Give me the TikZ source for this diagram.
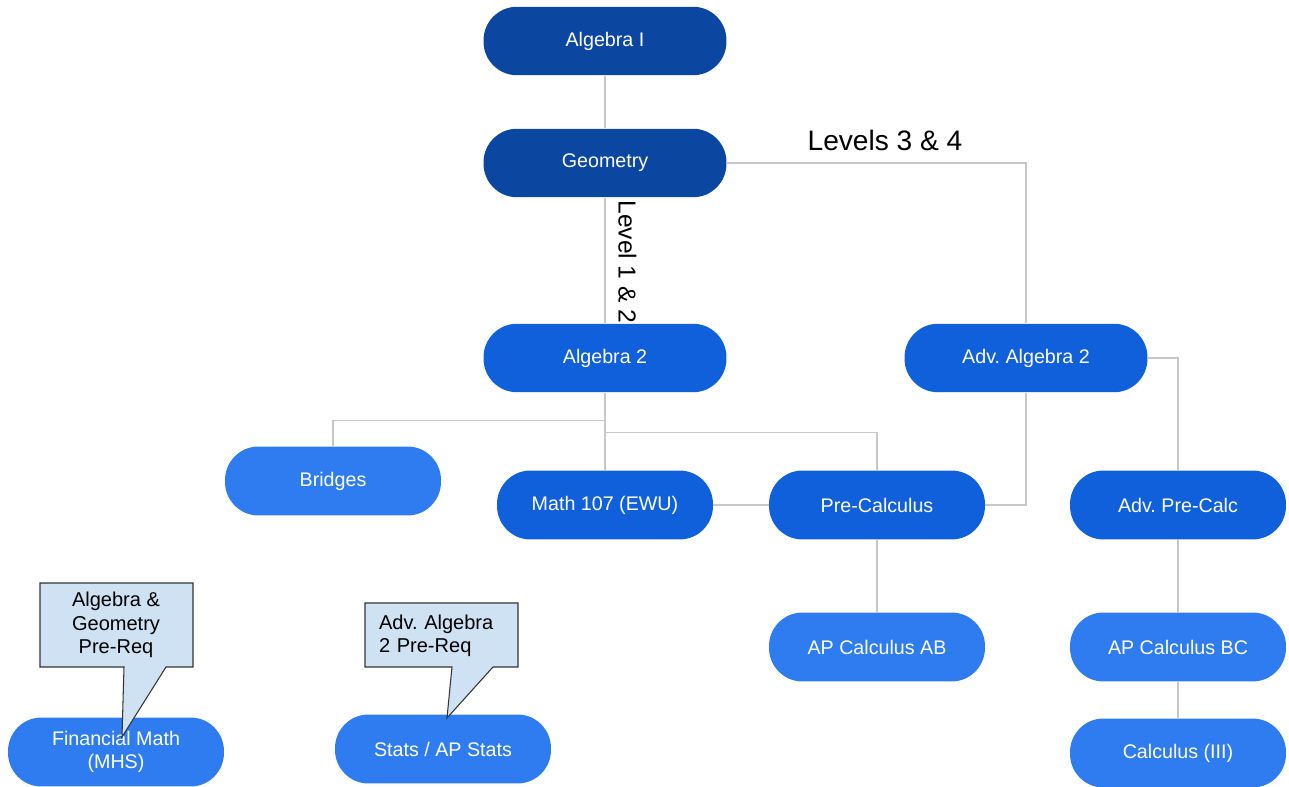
\documentclass[tikz,border=0pt]{standalone}
\usepackage{fontspec}
\setmainfont{Liberation Sans}
\usepackage{tikz}
\usetikzlibrary{calc,positioning}
\frenchspacing
\definecolor{navyblue}{HTML}{0B47A1}
\definecolor{midblue}{HTML}{1160DB}
\definecolor{skyblue}{HTML}{2F7CF0}
\definecolor{linegray}{HTML}{C8C8C8}
\definecolor{notefill}{HTML}{CFE2F3}
\tikzset{
  course/.style={rectangle, rounded corners=0.67cm, text=white, inner sep=2pt,
    font=\fontsize{11.2}{13}\selectfont, align=center},
  wide/.style={course, minimum width=4.86cm, minimum height=1.37cm},
  narrow/.style={course, minimum width=4.32cm, minimum height=1.38cm},
  link/.style={draw=linegray, line width=0.75pt},
  notebox/.style={fill=notefill, draw=black!80, line width=0.6pt, line join=miter},
  notetext/.style={font=\fontsize{11.4}{13.4}\selectfont, inner sep=0pt},
  levelnote/.style={font=\fontsize{16}{18}\selectfont, inner sep=0pt}
}

\begin{document}
\begin{tikzpicture}[x=0.02cm, y=-0.02cm]
  \useasboundingbox (0,0) rectangle (1289,787);
  % level labels
  \node[levelnote] (lvl34) at (885,140) {Levels 3 \& 4};
  \node[levelnote, font=\fontsize{14}{16}\selectfont, rotate=-90, anchor=south west]
    (lvl12) at (618,200) {Level 1 \& 2};
  % courses
  \node[wide, fill=navyblue] (alg1) at (605,41) {Algebra I};
  \node[wide, fill=navyblue] (geom) at (605,163) {Geometry};
  \node[wide, fill=midblue] (alg2) at (605,358) {Algebra 2};
  \node[wide, fill=midblue] (advalg2) at (1026,358) {Adv. Algebra 2};
  \node[narrow, fill=skyblue] (bridges) at (333,481) {Bridges};
  \node[narrow, fill=midblue] (math107) at (605,505) {Math 107 (EWU)};
  \node[narrow, fill=midblue] (precalc) at (877,505) {Pre-Calculus};
  \node[narrow, fill=midblue] (advprecalc) at (1178,505) {Adv. Pre-Calc};
  \node[narrow, fill=skyblue] (apab) at (877,647) {AP Calculus AB};
  \node[narrow, fill=skyblue] (apbc) at (1178,647) {AP Calculus BC};
  \node[narrow, fill=skyblue] (calc3) at (1178,753) {Calculus (III)};
  \node[narrow, fill=skyblue] (finmath) at (116,752) {Financial Math\\(MHS)};
  \node[narrow, fill=skyblue] (stats) at (443,749) {Stats / AP Stats};
  % connectors
  \draw[link] (alg1) -- (geom);
  \draw[link] (geom) -- (alg2);
  \draw[link] (geom.east) -| (advalg2.north);
  \draw[link] (alg2.south) -- ++(0,28) -| (bridges.north);
  \draw[link] (alg2) -- (math107);
  \draw[link] (alg2.south) -- ++(0,40) -| (precalc.north);
  \draw[link] (math107) -- (precalc);
  \draw[link] (advalg2.south) |- (precalc.east);
  \draw[link] (advalg2.east) -| (advprecalc.north);
  \draw[link] (precalc) -- (apab);
  \draw[link] (advprecalc) -- (apbc);
  \draw[link] (apbc) -- (calc3);
  % pre-req notes
  \coordinate (fmtip) at (122,737);
  \coordinate (sttip) at (447,718);
  \draw[notebox] (40,667) -- (40,583) -- (193,583) -- (193,667) -- (166,667)
    -- (fmtip) -- (124,667) -- cycle;
  \draw[notebox] (365,667) -- (365,603) -- (518,603) -- (518,667) -- (493,667)
    -- (sttip) -- (452,667) -- cycle;
  \node[notetext, align=center] (fmnote) at (116,625) {Algebra \&\\Geometry\\Pre-Req};
  \node[notetext, align=left, text width=2.5cm] (stnote) at (441.5,636) {Adv. Algebra\\2 Pre-Req};
\end{tikzpicture}
\end{document}
